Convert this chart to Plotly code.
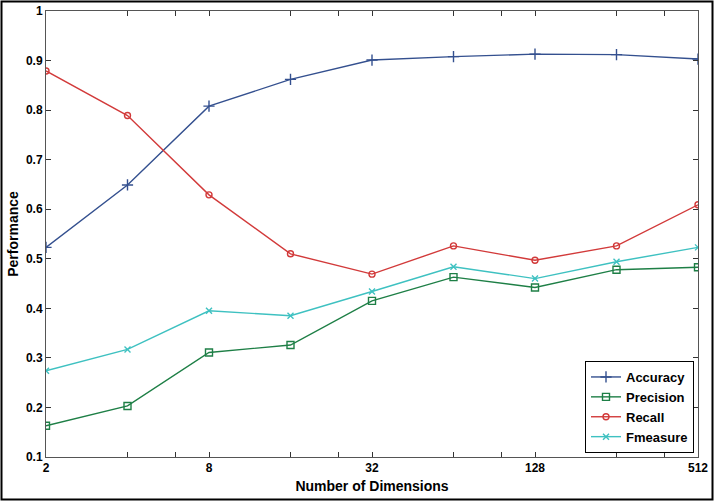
import math
import plotly.graph_objects as go

dims = [2, 4, 8, 16, 32, 64, 128, 256, 512]
accuracy = [0.523, 0.649, 0.808, 0.862, 0.901, 0.908, 0.913, 0.912, 0.903]
precision = [0.163, 0.203, 0.311, 0.326, 0.415, 0.463, 0.442, 0.478, 0.483]
recall = [0.879, 0.789, 0.629, 0.510, 0.469, 0.526, 0.497, 0.526, 0.609]
fmeasure = [0.274, 0.317, 0.395, 0.385, 0.434, 0.484, 0.460, 0.494, 0.523]

x_tickvals = [2, 4, 6, 8, 16, 24, 32, 64, 96, 128, 256, 384, 512]
x_ticktext = ["2", "", "", "8", "", "", "32", "", "", "128", "", "", "512"]
y_tickvals = [0.1, 0.2, 0.3, 0.4, 0.5, 0.6, 0.7, 0.8, 0.9, 1.0]
y_ticktext = ["0.1", "0.2", "0.3", "0.4", "0.5", "0.6", "0.7", "0.8", "0.9", "1"]

series = [
    ("Accuracy", accuracy, "#34508f", "cross-thin", 8),
    ("Precision", precision, "#1e7f46", "square-open", 7),
    ("Recall", recall, "#d23a3a", "circle-open", 6),
    ("Fmeasure", fmeasure, "#3ec1c1", "x-thin", 6),
]

fig = go.Figure()
for name, vals, color, sym, size in series:
    fig.add_trace(go.Scatter(
        x=dims, y=vals, name=name, mode="lines+markers",
        line=dict(color=color, width=1.4),
        marker=dict(symbol=sym, size=size, color=color,
                    line=dict(color=color, width=1.4)),
    ))

W, H = 714, 501
L, R, T, B = 46, 16, 11, 44
pw, ph = W - L - R, H - T - B

font = dict(family="Liberation Sans, Arial, sans-serif", size=13, color="black")

fig.update_layout(
    width=W, height=H,
    margin=dict(l=L, r=R, t=T, b=B, pad=0, autoexpand=False),
    paper_bgcolor="white", plot_bgcolor="white",
    font=font,
    showlegend=True,
    legend=dict(
        x=(585 - L) / pw, y=(H - B - 361) / ph, xanchor="left", yanchor="top",
        bgcolor="white", bordercolor="black", borderwidth=1,
        font=dict(family="Liberation Sans, Arial, sans-serif", size=13, color="black", weight="bold"),
        tracegroupgap=0, itemwidth=30,
    ),
    xaxis=dict(
        type="log", range=[math.log10(2), math.log10(512)],
        tickvals=x_tickvals, ticktext=x_ticktext,
        ticks="inside", ticklen=5, tickcolor="#333", tickwidth=1,
        showline=True, linecolor="#555", linewidth=1, mirror="ticks",
        showgrid=False, zeroline=False, automargin=False,
        tickfont=dict(size=12, weight="bold"),
        title=dict(text="Number of Dimensions", font=dict(size=14, weight="bold"), standoff=6),
    ),
    yaxis=dict(
        range=[0.1, 1.0],
        tickvals=y_tickvals, ticktext=y_ticktext,
        ticks="inside", ticklen=5, tickcolor="#333", tickwidth=1,
        showline=True, linecolor="#555", linewidth=1, mirror="ticks",
        showgrid=False, zeroline=False, automargin=False,
        tickfont=dict(size=12, weight="bold"),
        title=dict(text="Performance", font=dict(size=14, weight="bold"), standoff=4),
    ),
)

# outer black frame around the whole image
fig.add_shape(
    type="rect", xref="paper", yref="paper",
    x0=(1.5 - L) / pw, x1=(W - 1.5 - L) / pw,
    y0=(H - B - (H - 1.5)) / ph, y1=(H - B - 1.5) / ph,
    line=dict(color="black", width=2), fillcolor="rgba(0,0,0,0)", layer="above",
)

fig.write_html("out.html", config={"displayModeBar": False},
               post_script="document.body.style.margin='0';document.body.style.padding='0';")
